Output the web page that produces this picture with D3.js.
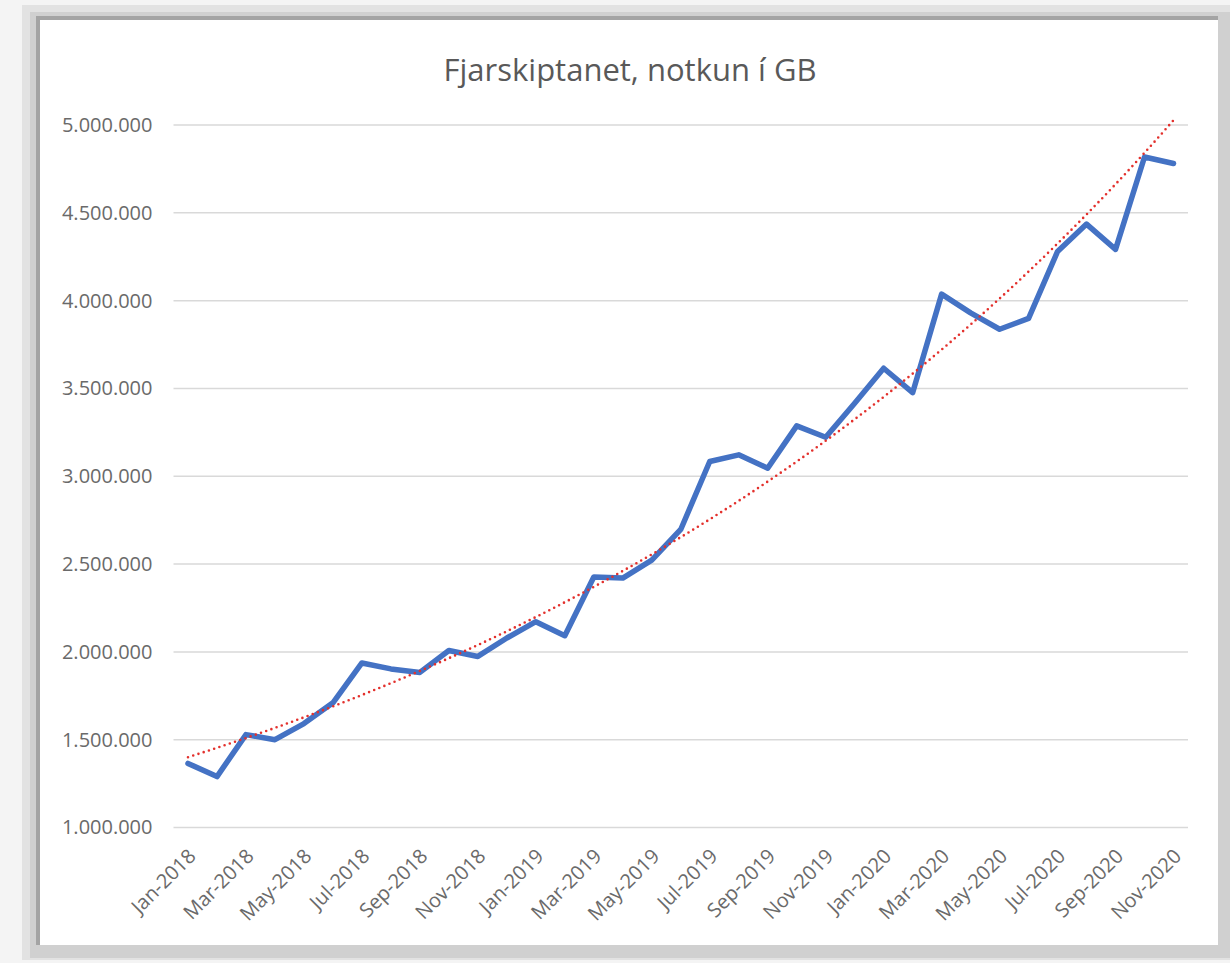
<!DOCTYPE html>
<html>
<head>
<meta charset="utf-8">
<script src="https://cdn.jsdelivr.net/npm/d3@7"></script>
<style>
  html, body { margin: 0; padding: 0; background: #f4f4f4; }
  svg { display: block; }
</style>
</head>
<body>
<div id="chart"></div>
<script>
var categories = [
  "Jan-2018","Feb-2018","Mar-2018","Apr-2018","May-2018","Jun-2018",
  "Jul-2018","Aug-2018","Sep-2018","Oct-2018","Nov-2018","Dec-2018",
  "Jan-2019","Feb-2019","Mar-2019","Apr-2019","May-2019","Jun-2019",
  "Jul-2019","Aug-2019","Sep-2019","Oct-2019","Nov-2019","Dec-2019",
  "Jan-2020","Feb-2020","Mar-2020","Apr-2020","May-2020","Jun-2020",
  "Jul-2020","Aug-2020","Sep-2020","Oct-2020","Nov-2020"
];
var usage = [
  1365000, 1290000, 1529000, 1500000, 1592000, 1710000,
  1937000, 1903000, 1883000, 2008000, 1974000, 2079000,
  2172000, 2092000, 2426000, 2420000, 2522000, 2697000,
  3084000, 3122000, 3046000, 3287000, 3222000, 3416000,
  3615000, 3476000, 4037000, 3930000, 3837000, 3899000,
  4280000, 4436000, 4292000, 4818000, 4781000
];
var yTicks = [1000000, 1500000, 2000000, 2500000, 3000000, 3500000, 4000000, 4500000, 5000000];
var title = "Fjarskiptanet, notkun í GB";

var width = 1230, height = 963;
var font = "'Open Sans', 'Noto Sans', sans-serif";
var text_color = "#6a6a6a";
var line_color = "#4472c4";
var trend_color = "#e3302c";
var grid_color = "#d9d9d9";

var svg = d3.select("#chart").append("svg")
  .attr("width", width)
  .attr("height", height);

// card with soft frame
svg.append("rect").attr("x", 0).attr("y", 0).attr("width", width).attr("height", height).attr("fill", "#f4f4f4");
svg.append("rect").attr("x", 22).attr("y", 5).attr("width", 1208).attr("height", 955).attr("fill", "#e2e2e2");
svg.append("rect").attr("x", 30).attr("y", 12).attr("width", 1200).attr("height", 946).attr("fill", "#d0d0d0");
svg.append("rect").attr("x", 36).attr("y", 16).attr("width", 1182).attr("height", 929).attr("fill", "#a4a4a4");
svg.append("rect").attr("x", 40).attr("y", 20).attr("width", 1178).attr("height", 925).attr("fill", "#ffffff");

var x = d3.scaleBand().domain(categories).range([173.5, 1188]);
var y = d3.scaleLinear().domain([1000000, 5000000]).range([827.5, 125]);
var cx = function(d){ return x(d) + x.bandwidth() / 2; };

var locale = d3.formatLocale({decimal: ",", thousands: ".", grouping: [3], currency: ["", ""]});
var fmt = locale.format(",d");

svg.append("text")
  .attr("x", 630)
  .attr("y", 81)
  .attr("text-anchor", "middle")
  .attr("font-family", font)
  .attr("font-size", "31px")
  .attr("fill", "#595959")
  .text(title);

// gridlines
svg.append("g").selectAll("line")
  .data(yTicks)
  .enter().append("line")
    .attr("x1", 173.5)
    .attr("x2", 1188)
    .attr("y1", function(d){ return y(d); })
    .attr("y2", function(d){ return y(d); })
    .attr("stroke", grid_color)
    .attr("stroke-width", 1.5);

// y axis
var yAxis = svg.append("g")
  .attr("transform", "translate(173.5,0)")
  .call(d3.axisLeft(y).tickValues(yTicks).tickSize(0).tickPadding(21).tickFormat(fmt));
yAxis.select(".domain").remove();
yAxis.selectAll("text")
  .attr("font-family", font)
  .attr("font-size", "20px")
  .attr("fill", text_color);

// x axis
var xAxis = svg.append("g")
  .attr("transform", "translate(0,827.5)")
  .call(d3.axisBottom(x).tickValues(categories.filter(function(d, i){ return i % 2 === 0; })).tickSize(0));
xAxis.select(".domain").remove();
xAxis.selectAll("text")
  .attr("font-family", font)
  .attr("font-size", "20px")
  .attr("fill", text_color)
  .attr("text-anchor", "end")
  .attr("dy", 0)
  .attr("y", 0)
  .attr("transform", "translate(9,30) rotate(-45)");

// data line
var line = d3.line()
  .x(function(d, i){ return cx(categories[i]); })
  .y(function(d){ return y(d); });

svg.append("path")
  .datum(usage)
  .attr("d", line)
  .attr("fill", "none")
  .attr("stroke", line_color)
  .attr("stroke-width", 5.5)
  .attr("stroke-linejoin", "round")
  .attr("stroke-linecap", "round");

// exponential trendline (least squares on ln values, like Excel)
var n = usage.length;
var xs = d3.range(n);
var ls = usage.map(function(v){ return Math.log(v); });
var mx = d3.mean(xs), ml = d3.mean(ls);
var b = d3.sum(xs, function(i){ return (i - mx) * (ls[i] - ml); }) / d3.sum(xs, function(i){ return (i - mx) * (i - mx); });
var a = ml - b * mx;
var trend = xs.map(function(i){ return Math.exp(a + b * i); });

var trendLine = d3.line()
  .x(function(d, i){ return cx(categories[i]); })
  .y(function(d){ return y(d); })
  .curve(d3.curveMonotoneX);

svg.append("path")
  .datum(trend)
  .attr("d", trendLine)
  .attr("fill", "none")
  .attr("stroke", trend_color)
  .attr("stroke-width", 2.6)
  .attr("stroke-linecap", "round")
  .attr("stroke-dasharray", "0,5.5");
</script>
</body>
</html>
